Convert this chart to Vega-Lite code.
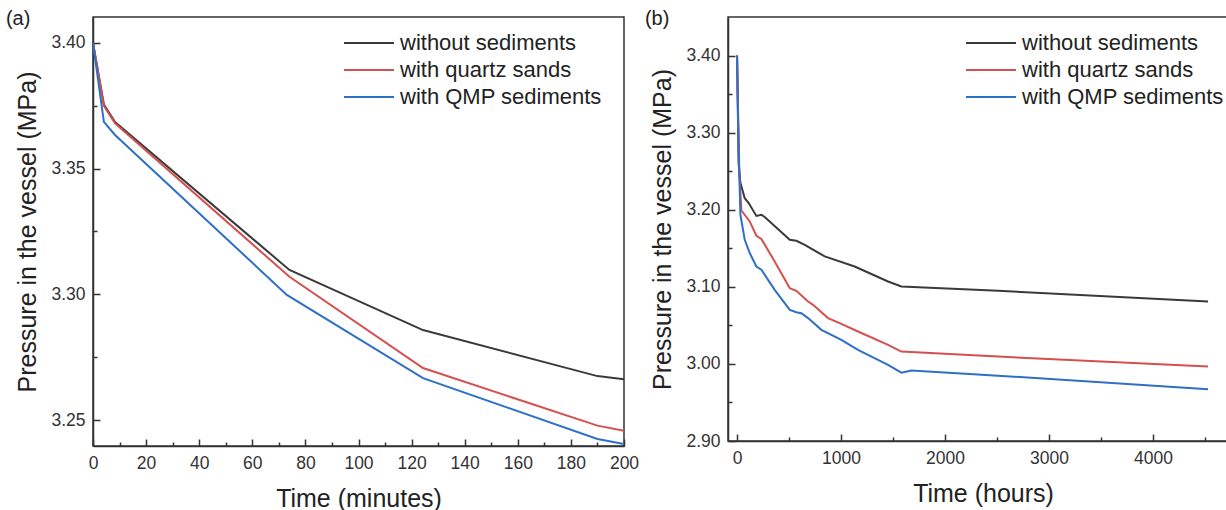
{
  "$schema": "https://vega.github.io/schema/vega-lite/v6.json",
  "background": "white",
  "padding": {"left": 5, "top": 8, "right": 0, "bottom": 0},
  "bounds": "flush",
  "spacing": 104,
  "datasets": {
    "a": [
      {"t": 0, "p": 3.4, "s": "without sediments"},
      {"t": 4.1, "p": 3.3755, "s": "without sediments"},
      {"t": 8.3, "p": 3.3685, "s": "without sediments"},
      {"t": 74, "p": 3.3097, "s": "without sediments"},
      {"t": 124.3, "p": 3.2858, "s": "without sediments"},
      {"t": 190, "p": 3.2675, "s": "without sediments"},
      {"t": 200, "p": 3.2662, "s": "without sediments"},
      {"t": 0, "p": 3.4, "s": "with quartz sands"},
      {"t": 4.1, "p": 3.375, "s": "with quartz sands"},
      {"t": 8.3, "p": 3.368, "s": "with quartz sands"},
      {"t": 74, "p": 3.307, "s": "with quartz sands"},
      {"t": 124.3, "p": 3.2707, "s": "with quartz sands"},
      {"t": 190, "p": 3.2478, "s": "with quartz sands"},
      {"t": 200, "p": 3.2458, "s": "with quartz sands"},
      {"t": 0, "p": 3.4, "s": "with QMP sediments"},
      {"t": 4.1, "p": 3.3686, "s": "with QMP sediments"},
      {"t": 8.3, "p": 3.3634, "s": "with QMP sediments"},
      {"t": 73, "p": 3.2998, "s": "with QMP sediments"},
      {"t": 124.3, "p": 3.2667, "s": "with QMP sediments"},
      {"t": 190, "p": 3.2425, "s": "with QMP sediments"},
      {"t": 200, "p": 3.2405, "s": "with QMP sediments"}
    ],
    "b": [
      {"t": 0, "p": 3.4, "s": "without sediments"},
      {"t": 15, "p": 3.26, "s": "without sediments"},
      {"t": 32, "p": 3.235, "s": "without sediments"},
      {"t": 74, "p": 3.215, "s": "without sediments"},
      {"t": 112, "p": 3.2087, "s": "without sediments"},
      {"t": 186, "p": 3.192, "s": "without sediments"},
      {"t": 234, "p": 3.1935, "s": "without sediments"},
      {"t": 266, "p": 3.1905, "s": "without sediments"},
      {"t": 507, "p": 3.161, "s": "without sediments"},
      {"t": 570, "p": 3.1597, "s": "without sediments"},
      {"t": 651, "p": 3.1545, "s": "without sediments"},
      {"t": 843, "p": 3.1394, "s": "without sediments"},
      {"t": 1131, "p": 3.1264, "s": "without sediments"},
      {"t": 1452, "p": 3.1069, "s": "without sediments"},
      {"t": 1580, "p": 3.1004, "s": "without sediments"},
      {"t": 2510, "p": 3.0948, "s": "without sediments"},
      {"t": 4529, "p": 3.0809, "s": "without sediments"},
      {"t": 0, "p": 3.4, "s": "with quartz sands"},
      {"t": 20, "p": 3.25, "s": "with quartz sands"},
      {"t": 42, "p": 3.199, "s": "with quartz sands"},
      {"t": 122, "p": 3.1848, "s": "with quartz sands"},
      {"t": 186, "p": 3.1662, "s": "with quartz sands"},
      {"t": 234, "p": 3.162, "s": "with quartz sands"},
      {"t": 362, "p": 3.1329, "s": "with quartz sands"},
      {"t": 507, "p": 3.0983, "s": "with quartz sands"},
      {"t": 570, "p": 3.0948, "s": "with quartz sands"},
      {"t": 683, "p": 3.0809, "s": "with quartz sands"},
      {"t": 731, "p": 3.0766, "s": "with quartz sands"},
      {"t": 875, "p": 3.0594, "s": "with quartz sands"},
      {"t": 1003, "p": 3.052, "s": "with quartz sands"},
      {"t": 1163, "p": 3.042, "s": "with quartz sands"},
      {"t": 1452, "p": 3.0247, "s": "with quartz sands"},
      {"t": 1580, "p": 3.016, "s": "with quartz sands"},
      {"t": 2510, "p": 3.0095, "s": "with quartz sands"},
      {"t": 4529, "p": 2.9965, "s": "with quartz sands"},
      {"t": 0, "p": 3.4, "s": "with QMP sediments"},
      {"t": 10, "p": 3.32, "s": "with QMP sediments"},
      {"t": 19, "p": 3.265, "s": "with QMP sediments"},
      {"t": 32, "p": 3.1935, "s": "with QMP sediments"},
      {"t": 74, "p": 3.161, "s": "with QMP sediments"},
      {"t": 122, "p": 3.1438, "s": "with QMP sediments"},
      {"t": 186, "p": 3.1264, "s": "with QMP sediments"},
      {"t": 234, "p": 3.1221, "s": "with QMP sediments"},
      {"t": 362, "p": 3.0961, "s": "with QMP sediments"},
      {"t": 507, "p": 3.0701, "s": "with QMP sediments"},
      {"t": 570, "p": 3.0671, "s": "with QMP sediments"},
      {"t": 618, "p": 3.0658, "s": "with QMP sediments"},
      {"t": 683, "p": 3.0594, "s": "with QMP sediments"},
      {"t": 811, "p": 3.0442, "s": "with QMP sediments"},
      {"t": 1003, "p": 3.0312, "s": "with QMP sediments"},
      {"t": 1163, "p": 3.0182, "s": "with QMP sediments"},
      {"t": 1452, "p": 2.9987, "s": "with QMP sediments"},
      {"t": 1580, "p": 2.9887, "s": "with QMP sediments"},
      {"t": 1677, "p": 2.9913, "s": "with QMP sediments"},
      {"t": 2510, "p": 2.9848, "s": "with QMP sediments"},
      {"t": 4529, "p": 2.9671, "s": "with QMP sediments"}
    ]
  },
  "config": {
    "font": "Liberation Sans",
    "view": {"stroke": "#333", "strokeWidth": 1.5},
    "axis": {
      "grid": false,
      "domainColor": "#333",
      "domainWidth": 1.5,
      "tickColor": "#333",
      "tickWidth": 1.5,
      "labelFont": "Liberation Sans",
      "labelFontSize": 17.5,
      "labelColor": "#333",
      "labelPadding": 15,
      "labelFlush": false,
      "labelOverlap": false,
      "titleFont": "Liberation Sans",
      "titleFontSize": 25,
      "titleFontWeight": "normal",
      "titleColor": "#222",
      "titlePadding": 10
    },
    "axisX": {"titlePadding": 12},
    "legend": {
      "orient": "none",
      "title": null,
      "symbolType": "M-1,0H9",
      "symbolSize": 100,
      "symbolStrokeWidth": 2.2,
      "labelFont": "Liberation Sans",
      "labelFontSize": 22,
      "labelColor": "#222",
      "labelOffset": 40,
      "labelLimit": 0,
      "rowPadding": 5
    },
    "title": {"anchor": "start", "frame": "bounds", "fontSize": 20, "fontWeight": "normal", "color": "#222", "offset": -12, "font": "Liberation Sans"}
  },
  "resolve": {"scale": {"color": "independent"}, "legend": {"color": "independent"}},
  "hconcat": [
    {
      "width": 531,
      "height": 429,
      "title": {"text": "(a)", "dx": -10},
      "data": {"name": "a"},
      "mark": {"type": "line", "strokeWidth": 2, "clip": true},
      "encoding": {
        "x": {
          "field": "t", "type": "quantitative",
          "scale": {"domain": [0, 200], "nice": false, "zero": false},
          "axis": {
            "title": "Time (minutes)",
            "values": [0,10,20,30,40,50,60,70,80,90,100,110,120,130,140,150,160,170,180,190,200],
            "labelExpr": "datum.value % 20 === 0 ? format(datum.value, 'd') : ''",
            "tickSize": {"condition": {"test": "datum.value % 20 === 0", "value": -7}, "value": -4}
          }
        },
        "y": {
          "field": "p", "type": "quantitative",
          "scale": {"domain": [3.2397, 3.4103], "nice": false, "zero": false},
          "axis": {
            "title": "Pressure in the vessel (MPa)",
            "values": [3.25, 3.275, 3.3, 3.325, 3.35, 3.375, 3.4],
            "labelExpr": "round(datum.value*1000) % 50 === 0 ? format(datum.value, '.2f') : ''",
            "tickSize": {"condition": {"test": "round(datum.value*1000) % 50 === 0", "value": -7}, "value": -4}
          }
        },
        "color": {
          "field": "s", "type": "nominal",
          "scale": {"domain": ["without sediments", "with quartz sands", "with QMP sediments"], "range": ["#3a3a3a", "#d64f4f", "#2e6fc8"]},
          "legend": {"legendX": 245, "legendY": 15}
        }
      }
    },
    {
      "width": 510,
      "height": 424,
      "title": {"text": "(b)", "dx": -6},
      "data": {"name": "b"},
      "mark": {"type": "line", "strokeWidth": 2, "clip": true},
      "encoding": {
        "x": {
          "field": "t", "type": "quantitative",
          "scale": {"domain": [-87, 4817], "nice": false, "zero": false},
          "axis": {
            "title": "Time (hours)",
            "values": [0,500,1000,1500,2000,2500,3000,3500,4000,4500],
            "labelExpr": "datum.value % 1000 === 0 ? format(datum.value, 'd') : ''",
            "tickSize": {"condition": {"test": "datum.value % 1000 === 0", "value": -7}, "value": -4}
          }
        },
        "y": {
          "field": "p", "type": "quantitative",
          "scale": {"domain": [2.9, 3.45], "nice": false, "zero": false},
          "axis": {
            "title": "Pressure in the vessel (MPa)",
            "values": [2.9, 2.95, 3.0, 3.05, 3.1, 3.15, 3.2, 3.25, 3.3, 3.35, 3.4],
            "labelExpr": "round(datum.value*100) % 10 === 0 ? format(datum.value, '.2f') : ''",
            "tickSize": {"condition": {"test": "round(datum.value*100) % 10 === 0", "value": -7}, "value": -4}
          }
        },
        "color": {
          "field": "s", "type": "nominal",
          "scale": {"domain": ["without sediments", "with quartz sands", "with QMP sediments"], "range": ["#3a3a3a", "#d64f4f", "#2e6fc8"]},
          "legend": {"legendX": 232, "legendY": 15}
        }
      }
    }
  ]
}
